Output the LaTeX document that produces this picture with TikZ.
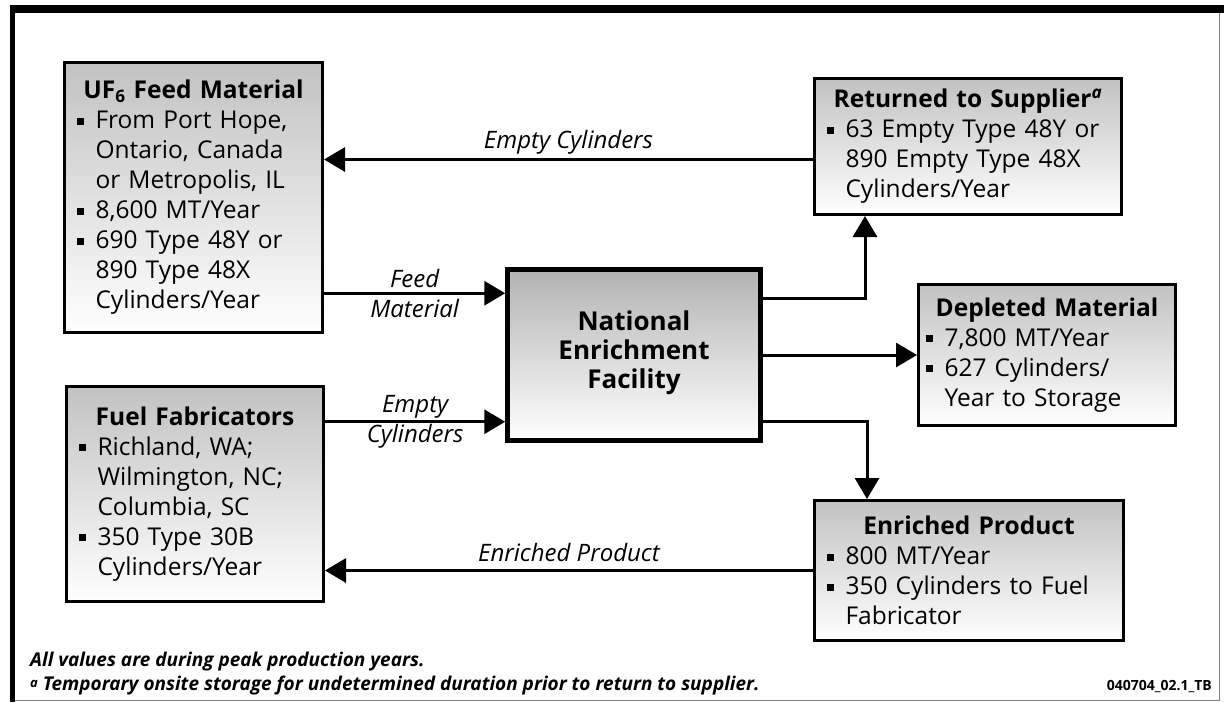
\documentclass[tikz,border=0pt]{standalone}
\usepackage{fontspec}
\setmainfont{Open Sans}
\usepackage{tikz}
\usetikzlibrary{positioning,arrows.meta,calc}
\setlength{\parindent}{0pt}
\newcommand{\bul}{\makebox[19pt][l]{\rule[4pt]{7pt}{7pt}}}
\newcommand{\ind}{\hspace*{19pt}}
\tikzset{
    x=1pt,
    y=-1pt,
    box/.style = {
        draw,
        shape=rectangle,
        line width=3pt,
        top color=black!24,
        bottom color=white,
        inner xsep=12pt,
        align=left,
        font=\fontsize{24.5}{30}\selectfont
    },
    hub/.style = {
        draw,
        shape=rectangle,
        line width=4.5pt,
        top color=black!30,
        bottom color=white,
        align=center,
        font=\fontsize{26}{29}\selectfont\bfseries
    },
    flow/.style = {
        draw,
        line width=3pt
    },
    flowlabel/.style = {
        font=\fontsize{24}{30}\selectfont\itshape,
        align=center
    },
    note/.style = {
        font=\fontsize{19}{20}\selectfont\bfseries\itshape,
        inner sep=0pt
    },
    >={Triangle[length=21pt,width=24pt]},
}

\begin{document}
\begin{tikzpicture}
                \useasboundingbox (0,0) rectangle (1224,702);
                % frame
                \draw[line width=8pt] (10,9) -- (1224,9);
                \draw[line width=5pt] (12.5,5) -- (12.5,702);
                \draw[gray, line width=1pt] (1219,13) -- (1219,700) -- (15,700);

                \node[box, minimum width=258pt, minimum height=270pt, text width=234pt] (feed) at (193.5,197.5) {%
                    {\centering\bfseries UF\textsubscript{6} Feed Material\par}
                    \bul From Port Hope,\\
                    \ind Ontario, Canada\\
                    \ind or Metropolis, IL\\
                    \bul 8,600 MT/Year\\
                    \bul 690 Type 48Y or\\
                    \ind 890 Type 48X\\
                    \ind Cylinders/Year};
                \node[box, minimum width=257pt, minimum height=215pt, text width=233pt] (fuel) at (195,494) {%
                    {\centering\bfseries Fuel Fabricators\par}
                    \bul Richland, WA;\\
                    \ind Wilmington, NC;\\
                    \ind Columbia, SC\\
                    \bul 350 Type 30B\\
                    \ind Cylinders/Year};
                \node[hub, minimum width=253pt, minimum height=171pt] (nef) at (634,355) {National\\Enrichment\\Facility\rule[-10pt]{0pt}{10pt}};
                \node[box, minimum width=307pt, minimum height=136pt, text width=283pt] (ret) at (968,146.5) {%
                    {\centering\bfseries Returned to Supplier\textsuperscript{\itshape a}\par}
                    \bul 63 Empty Type 48Y or\\
                    \ind 890 Empty Type 48X\\
                    \ind Cylinders/Year};
                \node[box, minimum width=257pt, minimum height=141pt, inner xsep=7pt, text width=243pt] (dep) at (1047,355) {%
                    {\centering\bfseries Depleted Material\par}
                    \bul 7,800 MT/Year\\
                    \bul 627 Cylinders/\\
                    \ind Year to Storage};
                \node[box, minimum width=309pt, minimum height=140pt, text width=285pt] (enr) at (969,570.5) {%
                    {\centering\bfseries Enriched Product\par}
                    \bul 800 MT/Year\\
                    \bul 350 Cylinders to Fuel\\
                    \ind Fabricator};

                \coordinate (in1) at ([yshift=-26pt]nef.north west);
                \coordinate (in2) at ([yshift=21pt]nef.south west);
                \coordinate (out1) at ([yshift=-31pt]nef.north east);
                \coordinate (out3) at ([yshift=21pt]nef.south east);
                \coordinate (r1) at ([xshift=52pt]ret.south west);
                \coordinate (e1) at ([xshift=54pt]enr.north west);
                \coordinate (back1) at ([yshift=-13pt]ret.west);

                \path[flow, ->] (feed.east |- in1) -- (in1) node[flowlabel, midway] {Feed\\Material};
                \path[flow, ->] (fuel.east |- in2) -- (in2) node[flowlabel, midway] {Empty\\Cylinders};
                \path[flow, ->] (back1) -- (feed.east |- back1) node[flowlabel, midway, above] {Empty Cylinders};
                \path[flow, ->] (out1) -| (r1);
                \path[flow, ->] (nef.east) -- (dep.west |- nef.east);
                \path[flow, ->] (out3) -| (e1);
                \path[flow, ->] (enr.west) -- (fuel.east |- enr.west) node[flowlabel, midway, above=4pt] {Enriched Product};

                \node[note, anchor=base west] (allvals) at (30,666) {All values are during peak production years.};
                \node[note, anchor=base west] (fnote) at (30,690) {\raisebox{3pt}{\fontsize{13}{13}\selectfont a} Temporary onsite storage for undetermined duration prior to return to supplier.};
                \node[font=\fontsize{14}{14}\selectfont\bfseries, anchor=base east, inner sep=0pt] (figid) at (1212,690) {040704\_02.1\_TB};
\end{tikzpicture}
\end{document}
